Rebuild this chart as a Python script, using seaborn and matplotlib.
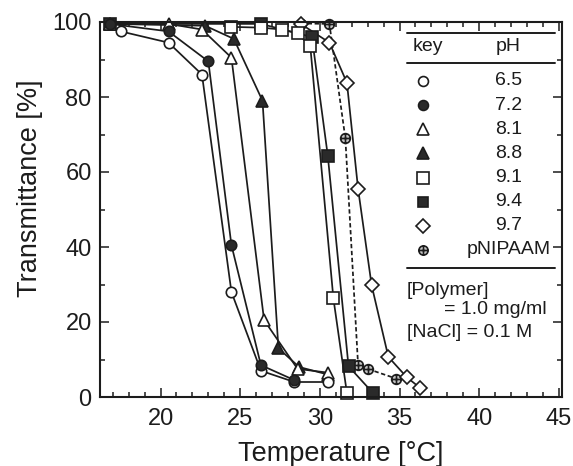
import numpy as np
import pandas as pd
import matplotlib
matplotlib.use("Agg")
import matplotlib.pyplot as plt
import seaborn as sns
from matplotlib.path import Path
from matplotlib.ticker import MultipleLocator

# ---------------- data ----------------
t_65 = [17.5, 20.5, 22.6, 24.45, 26.3, 28.4, 30.5]
y_65 = [97.5, 94.5, 86.0, 28.0, 7.0, 4.0, 4.0]

t_72 = [16.8, 20.5, 23.0, 24.45, 26.3, 28.4]
y_72 = [99.5, 97.5, 89.5, 40.5, 8.5, 4.5]

t_81 = [16.8, 20.5, 22.6, 24.45, 26.5, 28.6, 30.5]
y_81 = [99.5, 99.5, 98.0, 90.5, 20.5, 7.5, 6.5]

t_88 = [16.8, 22.8, 24.6, 26.4, 27.4, 28.7, 30.5]
y_88 = [99.5, 99.0, 95.5, 79.0, 13.0, 8.0, 6.0]

t_91 = [24.4, 26.3, 27.6, 28.6, 29.4, 30.85, 31.7]
y_91 = [98.7, 98.5, 98.0, 97.0, 93.5, 26.3, 1.0]

t_94 = [16.8, 26.3, 29.5, 30.5, 31.8, 33.35]
y_94 = [99.5, 99.5, 96.0, 64.3, 8.2, 1.0]

t_97 = [28.8, 30.6, 31.7, 32.4, 33.25, 34.3, 35.45, 36.3]
y_97 = [99.5, 94.5, 83.8, 55.5, 29.8, 10.7, 5.3, 2.4]

t_pn = [28.8, 30.6, 31.6, 32.4, 33.0, 34.8]
y_pn = [99.6, 99.5, 69.0, 8.5, 7.5, 4.9]

key_labels = ["6.5", "7.2", "8.1", "8.8", "9.1", "9.4", "9.7", "pNIPAAM"]

# ---------------- style ----------------
sns.set_theme(style="ticks")
plt.rcParams["font.family"] = ["Liberation Sans", "DejaVu Sans"]

INK = "#1c1c1c"
FILL = "#2a2a2a"

oplus = Path.make_compound_path(
    Path.unit_circle(),
    Path([(-1, 0), (1, 0), (0, -1), (0, 1)],
         [Path.MOVETO, Path.LINETO, Path.MOVETO, Path.LINETO]),
)

# (t, y, marker, face, size, linestyle, zorder)
series = [
    (t_65, y_65, "o", "white", 7.5, "-", 2.6),
    (t_72, y_72, "o", FILL, 7.5, "-", 2.9),
    (t_81, y_81, "^", "white", 8.5, "-", 2.5),
    (t_88, y_88, "^", FILL, 8.5, "-", 2.4),
    (t_91, y_91, "s", "white", 8.5, "-", 2.3),
    (t_94, y_94, "s", FILL, 8.0, "-", 2.2),
    (t_97, y_97, "D", "white", 7.0, "-", 2.1),
    (t_pn, y_pn, oplus, "#c4c4c4", 7.0, (0, (2.5, 1.5)), 2.0),
]

fig = plt.figure(figsize=(5.73, 4.66), dpi=100)
ax = fig.add_axes([100 / 573, 1 - 397 / 466, 462 / 573, 375 / 466])

for t, y, mk, fc, ms, ls, zo in series:
    df = pd.DataFrame({"T": t, "Tr": y})
    sns.lineplot(data=df, x="T", y="Tr", ax=ax, sort=False, estimator=None,
                 color=INK, lw=1.25, linestyle=ls, marker=mk, markersize=ms,
                 markerfacecolor=fc, mec=INK, mew=1.2, clip_on=False,
                 zorder=zo)

ax.set_xlim(16.2, 45.2)
ax.set_ylim(0, 100)
ax.xaxis.set_major_locator(MultipleLocator(5))
ax.xaxis.set_minor_locator(MultipleLocator(1))
ax.yaxis.set_major_locator(MultipleLocator(20))
ax.yaxis.set_minor_locator(MultipleLocator(10))
ax.tick_params(which="both", direction="in", top=True, right=True,
               color=INK, width=1.1, labelcolor=INK)
ax.tick_params(which="major", length=6.5)
ax.tick_params(which="minor", length=3.5)
ax.tick_params(axis="x", which="major", labelsize=17, pad=8)
ax.tick_params(axis="y", which="major", labelsize=17, pad=6)
for s in ax.spines.values():
    s.set_linewidth(1.5)
    s.set_color(INK)

ax.set_xlabel("Temperature [°C]", fontsize=19.5, color=INK, va="center")
ax.xaxis.set_label_coords(0.5216, -0.152)
ax.set_ylabel("Transmittance [%]", fontsize=19.5, color=INK, va="center")
ax.yaxis.set_label_coords(-0.1515, 0.557)

# ---------------- key table ----------------
tr = ax.transAxes
x0, x1 = 0.6645, 0.9848
for yy in (0.9715, 0.8899, 0.344):
    ax.plot([x0, x1], [yy, yy], transform=tr, color=INK, lw=1.4, clip_on=False)
ax.text(0.71, 0.934, "key", transform=tr, ha="center", va="center",
        fontsize=14, color=INK)
ax.text(0.883, 0.934, "pH", transform=tr, ha="center", va="center",
        fontsize=14, color=INK)
row_y = np.linspace(0.8427, 0.392, len(key_labels))
for (t, y, mk, fc, ms, ls, zo), lab, ry in zip(series, key_labels, row_y):
    ax.plot([0.6985], [ry], transform=tr, linestyle="none", marker=mk,
            markersize=ms * 0.95, markerfacecolor=fc, markeredgecolor=INK,
            markeredgewidth=1.2, clip_on=False)
    ax.text(0.8853, ry, lab, transform=tr, ha="center", va="center",
            fontsize=14, color=INK)
ax.text(0.6645, 0.2853, "[Polymer]", transform=tr, ha="left", va="center",
        fontsize=14, color=INK)
ax.text(0.9675, 0.232, "= 1.0 mg/ml", transform=tr, ha="right", va="center",
        fontsize=14, color=INK)
ax.text(0.6645, 0.1707, "[NaCl] = 0.1 M", transform=tr, ha="left", va="center",
        fontsize=14, color=INK)

fig.savefig("out.png", dpi=100)
